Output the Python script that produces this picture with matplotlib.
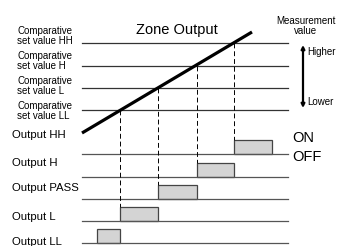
import matplotlib.pyplot as plt
from matplotlib.patches import Rectangle

# comparative set values (y position of each threshold line, pixel-like units)
levels = ["HH", "H", "L", "LL"]
level_y = [43, 66, 88, 110]
level_label_y = [36, 61, 86, 111]
# time where the measurement line crosses each threshold
cross_x = [234, 197, 158, 120]

# measurement value line (start, end)
meas_x = [82, 252]
meas_y = [133, 32]

# outputs: name, baseline y, ON interval
outputs = ["Output HH", "Output H", "Output PASS", "Output L", "Output LL"]
out_base = [154, 177, 199, 221, 243]
out_label_y = [135, 163, 188, 217, 242]
on_start = [234, 197, 158, 120, 97]
on_end = [272, 234, 197, 158, 120]
box_h = 14

line_x0, line_x1 = 82, 288

plt.rcParams['font.family'] = ['Liberation Sans Narrow', 'Liberation Sans', 'DejaVu Sans']

fig = plt.figure(figsize=(3.4, 2.46), dpi=100)
ax = fig.add_axes([0, 0, 1, 1])
ax.set_xlim(0, 340)
ax.set_ylim(246, 0)
ax.axis('off')

# threshold lines + labels
for lv, y, ly in zip(levels, level_y, level_label_y):
    ax.plot([line_x0, line_x1], [y, y], color='#333333', lw=0.9)
    ax.text(17, ly, 'Comparative\nset value ' + lv, fontsize=7, va='center',
            ha='left', linespacing=0.95)

# measurement line
ax.plot(meas_x, meas_y, color='black', lw=2.3, solid_capstyle='butt')

# outputs
for name, base, ly, s, e in zip(outputs, out_base, out_label_y, on_start, on_end):
    ax.plot([line_x0, line_x1], [base, base], color='#555555', lw=0.9)
    ax.add_patch(Rectangle((s, base - box_h), e - s, box_h, facecolor='#d4d4d4',
                           edgecolor='#444444', lw=0.9))
    ax.text(12, ly, name, fontsize=8.2, va='center', ha='left')

# dashed verticals from each crossing down to the output that turns on there
for x, y in zip(cross_x, level_y):
    i = on_start.index(x)
    ax.plot([x, x], [y, out_base[i] - box_h], color='black', lw=0.7,
            dashes=(5, 3))

ax.text(177, 30, 'Zone Output', fontsize=10.5, ha='center', va='center')
ax.text(306, 26, 'Measurement\nvalue', fontsize=7, ha='center', va='center',
        linespacing=0.95)
ax.annotate('', xy=(303, 45), xytext=(303, 108),
            arrowprops=dict(arrowstyle='<|-|>', color='black', lw=1.6,
                            mutation_scale=5, shrinkA=0, shrinkB=0))
ax.text(307, 52, 'Higher', fontsize=7, va='center', ha='left')
ax.text(307, 102, 'Lower', fontsize=7, va='center', ha='left')

ax.text(292, 138, 'ON', fontsize=10.5, va='center', ha='left')
ax.text(292, 157, 'OFF', fontsize=10.5, va='center', ha='left')

fig.savefig('out.png', dpi=100)
